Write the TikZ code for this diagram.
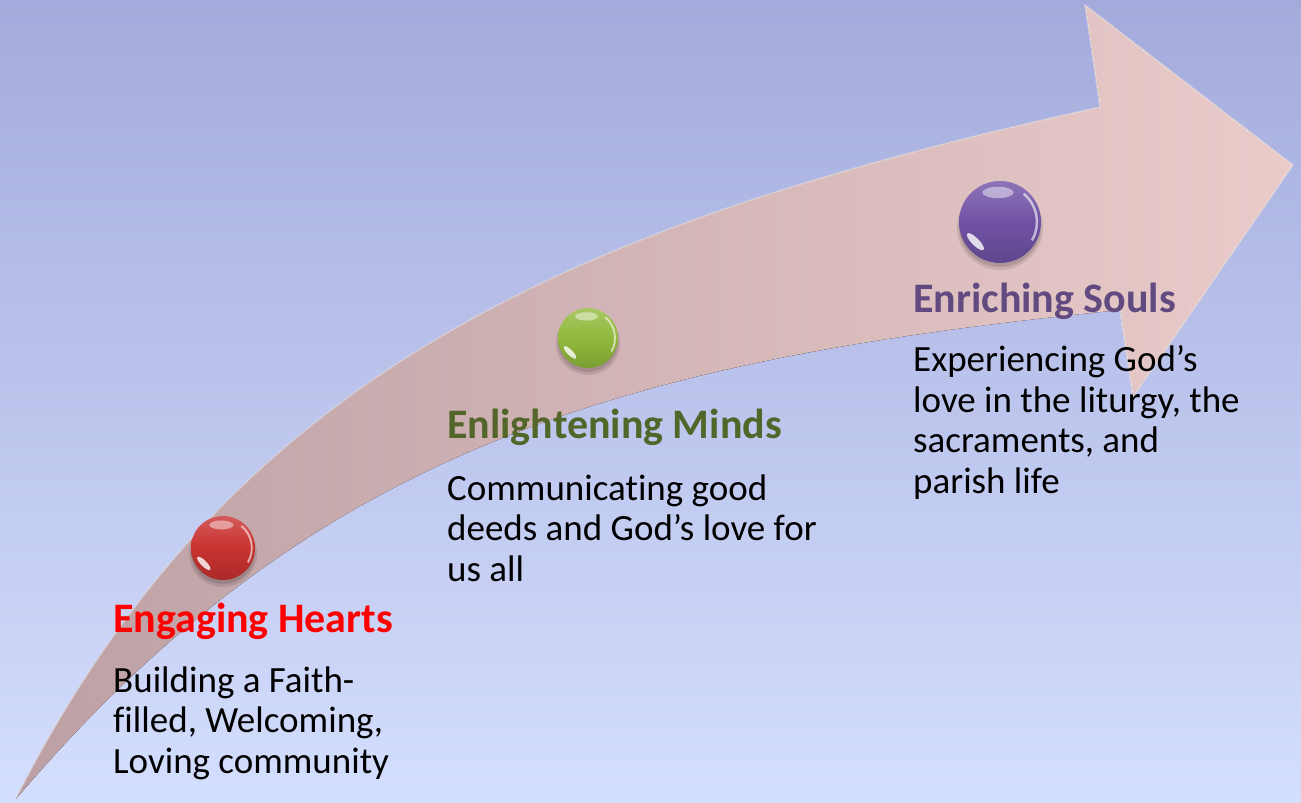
\documentclass[tikz,border=0pt]{standalone}
\usepackage{fontspec}
\setmainfont[Ligatures=NoCommon]{Carlito}
\definecolor{bgtop}{RGB}{164,171,220}
\definecolor{bgbot}{RGB}{212,222,253}
\definecolor{arrL}{RGB}{188,160,164}
\definecolor{arrR}{RGB}{234,203,202}
\definecolor{hred}{RGB}{255,0,0}
\definecolor{hgreen}{RGB}{82,102,42}
\definecolor{hpurple}{RGB}{96,74,128}
\definecolor{orbred}{RGB}{200,50,48}
\definecolor{orbgreen}{RGB}{145,185,60}
\definecolor{orbpurple}{RGB}{112,82,165}
\newcommand{\orb}[5]{%
  \fill[black,opacity=.10] (#2,#3+5) circle[radius=#4+2];
  \fill[black,opacity=.12] (#2,#3+4) circle[radius=#4];
  \node[circle, inner sep=0pt, minimum size={2*#4pt}, top color=#5!80!white, bottom color=#5!85!black, middle color=#5] (#1) at (#2,#3) {};
  \fill[white,opacity=.45] (#2-.05*#4,#3-.72*#4) ellipse[x radius=.38*#4, y radius=.14*#4];
  \fill[white,opacity=.8,rotate around={-45:(#2-.6*#4,#3+.48*#4)}] (#2-.6*#4,#3+.48*#4) ellipse[x radius=.28*#4, y radius=.09*#4];
  \draw[white,opacity=.6,line width=.06*#4] (#2,#3) ++(-50:.9*#4) arc[start angle=-50,end angle=30,radius=.9*#4];
}
\begin{document}
\begin{tikzpicture}[x=1pt,y=-1pt,
  heading/.style={anchor=base west, inner sep=0pt, font=\fontsize{42}{48}\selectfont\bfseries},
  body/.style={anchor=base west, inner sep=0pt, align=left, font=\fontsize{37}{40.5}\selectfont}]
\useasboundingbox (0,0) rectangle (1301,803);
\fill[top color=bgtop, bottom color=bgbot] (0,0) rectangle (1301,803);
% arrow
\coordinate (tail) at (15,800);
\coordinate (notchT) at (1100,107);
\coordinate (barbT) at (1085,5);
\coordinate (tip) at (1293,165);
\coordinate (barbB) at (1133,397);
\coordinate (notchB) at (1120,310);
\fill[left color=arrL, right color=arrR]
  (tail) .. controls (227,383) and (550,228) .. (notchT) -- (barbT) -- (tip) -- (barbB) -- (notchB)
  .. controls (620,360) and (312,450) .. (tail) -- cycle;
\draw[white,opacity=.5,line width=1.2pt,line join=round]
  (tail) .. controls (227,383) and (550,228) .. (notchT) -- (barbT) -- (tip) -- (barbB) -- (notchB);
% orbs
\orb{s1}{223}{548}{32}{orbred}
\orb{s2}{588}{338}{30}{orbgreen}
\orb{s3}{1000}{222}{41}{orbpurple}
% texts (body nodes anchored at the baseline of their last line)
\node[heading, text=hred] (h1) at (113,632) {Engaging Hearts};
\node[body] (b1) at (113,773) {Building a Faith-\\filled, Welcoming,\\Loving community};
\node[heading, text=hgreen] (h2) at (447,438) {Enlightening Minds};
\node[body] (b2) at (447,581) {Communicating good\\deeds and God’s love for\\us all};
\node[heading, text=hpurple] (h3) at (913,312) {Enriching Souls};
\node[body] (b3) at (913,493) {Experiencing God’s\\love in the liturgy, the\\sacraments, and\\parish life};
\end{tikzpicture}
\end{document}
